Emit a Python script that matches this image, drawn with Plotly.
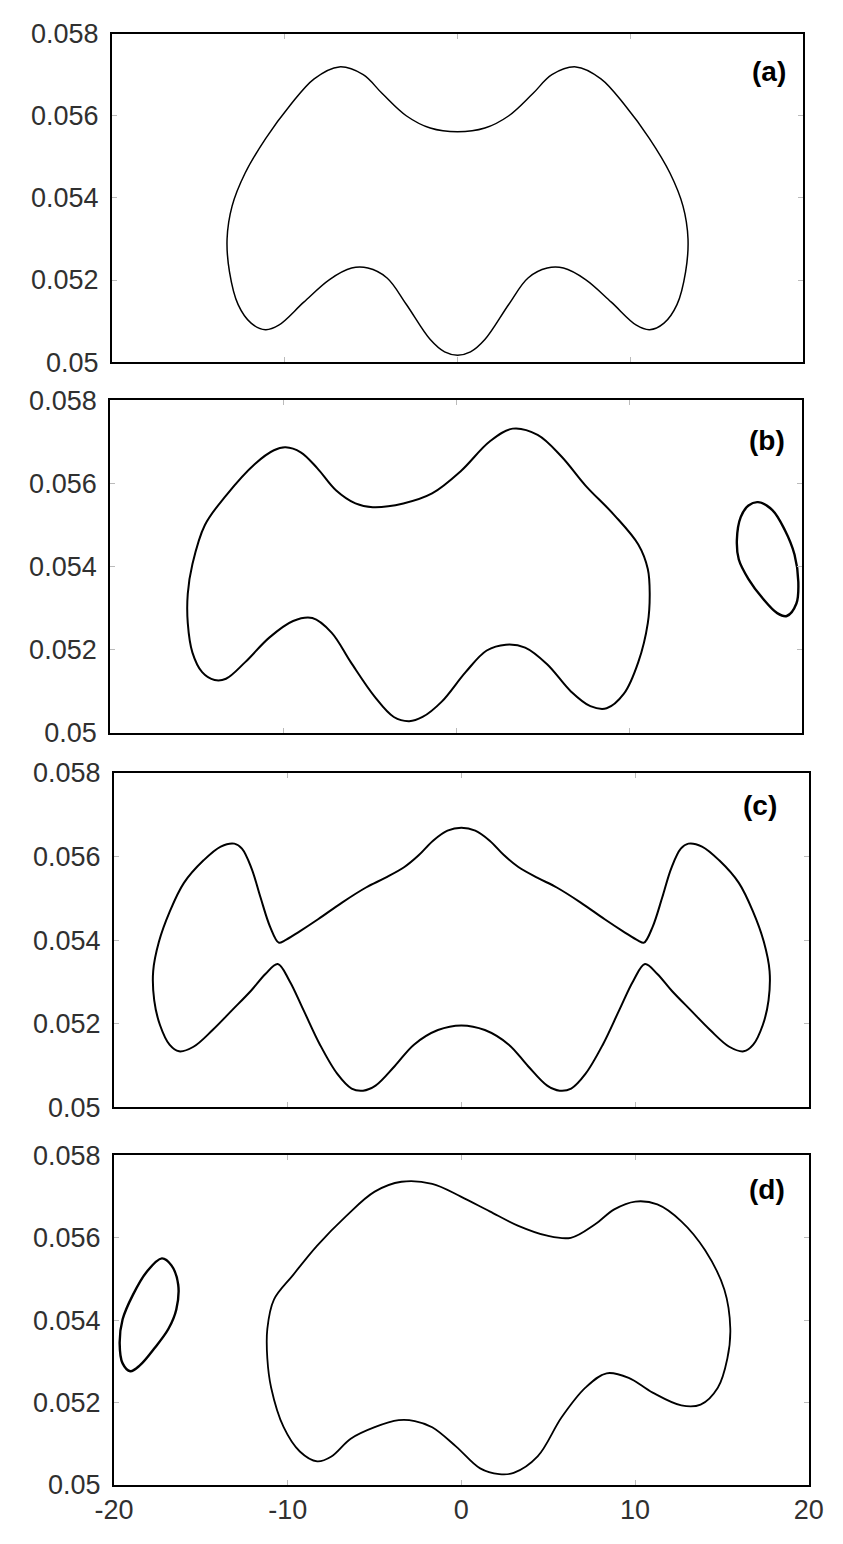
import plotly.graph_objects as go

# ---------------- data ----------------
# Panel (a)
a_x = [0, 1.58, 2.97, 4.36, 5.46, 6.85, 8.30, 9.70, 11.10, 12.30, 13.05, 13.34, 13.20, 12.70,
       11.95, 11.12, 10.35, 8.90, 7.41, 6.13, 5.19, 4.08, 2.97, 1.58, 0.75, 0,
       -0.75, -1.58, -2.97, -4.08, -5.19, -6.13, -7.41, -8.90, -10.35, -11.12, -11.95, -12.70,
       -13.20, -13.34, -13.05, -12.30, -11.10, -9.70, -8.30, -6.85, -5.46, -4.36, -2.97, -1.58, 0]
a_y = [0.05561, 0.05570, 0.05600, 0.05654, 0.05700, 0.05719, 0.05690, 0.05625, 0.05545, 0.05460,
       0.05380, 0.05300, 0.05220, 0.05140, 0.05095, 0.05079, 0.05090, 0.05146, 0.05201, 0.05229,
       0.05229, 0.05205, 0.05141, 0.05055, 0.05025, 0.05017,
       0.05025, 0.05055, 0.05141, 0.05205, 0.05229, 0.05229, 0.05201, 0.05146, 0.05090, 0.05079,
       0.05095, 0.05140, 0.05220, 0.05300, 0.05380, 0.05460, 0.05545, 0.05625, 0.05690, 0.05719,
       0.05700, 0.05654, 0.05600, 0.05570, 0.05561]

# Panel (b) main orbit
b_x = [-4.82, -3.05, -1.39, 0.28, 1.94, 3.27, 4.71, 6.09, 7.48, 9.14, 10.53, 11.08, 11.19, 11.08,
       10.53, 9.70, 8.70, 7.76, 6.65, 5.26, 3.99, 2.88, 1.77, 0.55, -0.83, -1.94, -2.71, -3.60,
       -4.71, -6.09, -7.20, -8.31, -9.42, -10.80, -12.19, -13.30, -13.96, -14.68, -15.24, -15.51,
       -15.51, -15.24, -14.52, -13.30, -11.63, -10.53, -9.86, -8.98, -8.03, -6.93, -5.82, -4.82]
b_y = [0.05543, 0.05552, 0.05576, 0.05630, 0.05701, 0.05732, 0.05717, 0.05665, 0.05595, 0.05524,
       0.05453, 0.05394, 0.05335, 0.05264, 0.05170, 0.05094, 0.05059, 0.05064, 0.05099, 0.05165,
       0.05205, 0.05212, 0.05198, 0.05146, 0.05075, 0.05038, 0.05028, 0.05038, 0.05087, 0.05170,
       0.05241, 0.05276, 0.05269, 0.05229, 0.05170, 0.05130, 0.05127, 0.05146, 0.05193, 0.05264,
       0.05335, 0.05406, 0.05500, 0.05571, 0.05647, 0.05680, 0.05687, 0.05675, 0.05637, 0.05583,
       0.05552, 0.05543]
# Panel (b) small orbit
b2_x = [17.45, 18.28, 19.00, 19.56, 19.78, 19.67, 19.11, 18.56, 17.73, 16.90, 16.34, 16.23, 16.45,
        16.90, 17.45]
b2_y = [0.05555, 0.05536, 0.05488, 0.05429, 0.05363, 0.05311, 0.05281, 0.05288, 0.05323, 0.05370,
        0.05417, 0.05465, 0.05519, 0.05547, 0.05555]

# Panel (c) (right half, mirrored for the left half)
c_rx = [0, 0.80, 1.63, 2.46, 3.28, 4.39, 5.49, 6.87, 8.25, 9.35, 10.18, 10.51, 11.01, 11.56, 12.08,
        12.63, 13.07, 13.85, 14.84, 15.97, 16.80, 17.41, 17.74, 17.68, 17.35, 16.80, 16.25, 15.42,
        14.32, 13.21, 12.11, 11.28, 10.57, 9.90, 9.08, 8.14, 7.14, 6.32, 5.66, 4.94, 3.83, 2.73,
        1.35, 0]
c_ry = [0.05669, 0.05662, 0.05638, 0.05603, 0.05575, 0.05549, 0.05526, 0.05490, 0.05450, 0.05420,
        0.05399, 0.05394, 0.05432, 0.05502, 0.05572, 0.05619, 0.05631, 0.05624, 0.05591, 0.05537,
        0.05467, 0.05396, 0.05326, 0.05256, 0.05197, 0.05150, 0.05134, 0.05145, 0.05185, 0.05232,
        0.05279, 0.05319, 0.05343, 0.05303, 0.05232, 0.05150, 0.05080, 0.05045, 0.05040, 0.05052,
        0.05099, 0.05150, 0.05185, 0.05196]
c_x = c_rx + [-v for v in reversed(c_rx)][1:]
c_y = c_ry + list(reversed(c_ry))[1:]

# Panel (d) main orbit
d_x = [4.94, 3.28, 1.63, -0.03, -1.68, -3.45, -4.99, -6.65, -8.30, -9.68, -10.79, -11.17, -11.17,
       -10.95, -10.23, -9.30, -8.30, -7.48, -6.37, -4.99, -3.61, -2.68, -1.68, -0.30, 1.08, 2.18,
       3.01, 4.39, 5.77, 7.14, 8.36, 9.63, 11.01, 12.66, 13.77, 14.76, 15.31, 15.48, 15.14, 14.04,
       12.66, 11.28, 10.01, 8.80, 7.70, 6.30, 4.94]
d_y = [0.05605, 0.05629, 0.05664, 0.05700, 0.05731, 0.05736, 0.05712, 0.05652, 0.05581, 0.05510,
       0.05450, 0.05379, 0.05307, 0.05236, 0.05140, 0.05081, 0.05057, 0.05069, 0.05112, 0.05140,
       0.05157, 0.05155, 0.05140, 0.05093, 0.05040, 0.05026, 0.05029, 0.05069, 0.05164, 0.05236,
       0.05271, 0.05260, 0.05224, 0.05193, 0.05195, 0.05236, 0.05307, 0.05379, 0.05474, 0.05569,
       0.05640, 0.05681, 0.05688, 0.05669, 0.05633, 0.05600, 0.05605]
# Panel (d) small orbit
d2_x = [-17.24, -16.69, -16.30, -16.41, -16.86, -17.68, -18.51, -19.06, -19.50, -19.67, -19.50,
        -18.90, -18.12, -17.24]
d2_y = [0.05550, 0.05533, 0.05486, 0.05426, 0.05379, 0.05331, 0.05290, 0.05276, 0.05295, 0.05343,
        0.05402, 0.05462, 0.05517, 0.05550]

y_ticks = [0.05, 0.052, 0.054, 0.056, 0.058]
y_ticktext = ["0.05", "0.052", "0.054", "0.056", "0.058"]
x_ticks = [-20, -10, 0, 10, 20]
x_ticktext = ["-20", "-10", "0", "10", "20"]
panel_labels = ["(a)", "(b)", "(c)", "(d)"]

# ---------------- layout ----------------
W, H = 843, 1544
# pixel boxes of the four panels: (left, right, top, bottom)
boxes = [(96, 817, 19, 354), (94, 816, 393, 732), (98, 823, 773, 1114), (98, 823, 1163, 1499)]
label_pos = [(781, 58), (779, 434), (772, 806), (779, 1198)]

fig = go.Figure()
curves = [
    [(a_x, a_y, 1.5)],
    [(b_x, b_y, 2.0), (b2_x, b2_y, 2.4)],
    [(c_x, c_y, 2.0)],
    [(d_x, d_y, 1.8), (d2_x, d2_y, 2.4)],
]
for i, group in enumerate(curves):
    suf = "" if i == 0 else str(i + 1)
    for xs, ys, w in group:
        fig.add_trace(go.Scatter(x=xs, y=ys, mode="lines",
                                 line=dict(color="black", width=w, shape="spline", smoothing=1.0),
                                 xaxis="x" + suf, yaxis="y" + suf, showlegend=False,
                                 hoverinfo="skip"))

font = dict(family="Liberation Sans, Arial, sans-serif", size=27, color="#303030")
for i, (l, r, t, b) in enumerate(boxes):
    suf = "" if i == 0 else str(i + 1)
    xa = dict(domain=[l / W, r / W], range=[-20, 20], anchor="y" + suf,
              tickvals=x_ticks, ticktext=x_ticktext, showticklabels=(i == 3),
              ticks="inside", ticklen=5, tickcolor="#bbbbbb", tickwidth=1,
              showline=True, linecolor="black", linewidth=2, mirror="ticks",
              showgrid=False, zeroline=False, tickfont=font, fixedrange=True)
    ya = dict(domain=[1 - b / H, 1 - t / H], range=[0.05, 0.058], anchor="x" + suf,
              tickvals=y_ticks, ticktext=y_ticktext,
              ticks="inside", ticklen=5, tickcolor="#bbbbbb", tickwidth=1,
              showline=True, linecolor="black", linewidth=2, mirror="ticks",
              showgrid=False, zeroline=False, tickfont=font, ticklabelstandoff=6,
              fixedrange=True)
    fig.layout["xaxis" + suf] = xa
    fig.layout["yaxis" + suf] = ya
    lx, ly = label_pos[i]
    fig.add_annotation(x=lx / W, y=1 - ly / H, xref="paper", yref="paper",
                       text="<b>" + panel_labels[i] + "</b>", showarrow=False,
                       font=dict(family="Liberation Sans, Arial, sans-serif", size=28,
                                 color="black"),
                       xanchor="center", yanchor="middle")

fig.update_layout(width=W, height=H, margin=dict(l=0, r=0, t=0, b=0),
                  paper_bgcolor="white", plot_bgcolor="white", hovermode=False)
fig.write_html("out.html", config={"displayModeBar": False, "staticPlot": True},
               post_script="document.body.style.margin='0';")
